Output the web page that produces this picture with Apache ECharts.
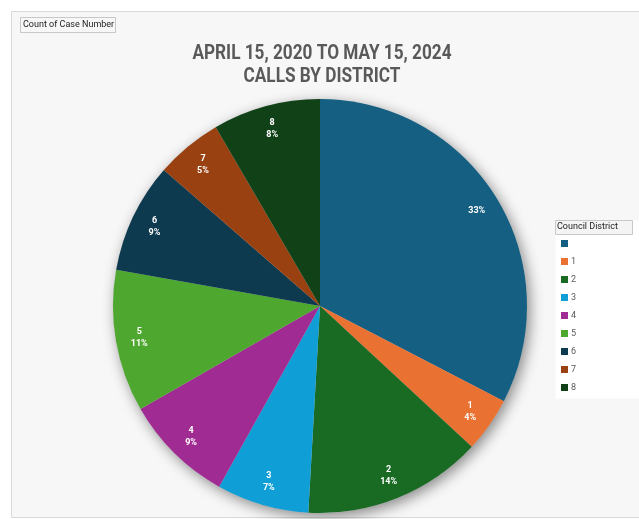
<!DOCTYPE html>
<html>
<head>
<meta charset="utf-8">
<script src="https://cdn.jsdelivr.net/npm/echarts@6/dist/echarts.min.js"></script>
<style>
html,body{margin:0;padding:0;background:#fff;}
#c{width:639px;height:519px;}
</style>
</head>
<body>
<div id="c"></div>
<script>
const categories = ['\u00a0', '1', '2', '3', '4', '5', '6', '7', '8'];
const values = [326, 43, 140, 72, 86, 111, 86, 52, 84];
const colors = ['#156082', '#E97132', '#196B24', '#0F9ED5', '#A02B93', '#4EA72E', '#0E3A50', '#9A4111', '#104117'];
const titleLines = ['APRIL 15, 2020 TO MAY 15, 2024', 'CALLS BY DISTRICT'];
const legendTitle = 'Council District';
const fieldButton = 'Count of Case Number';

const chart = echarts.init(document.getElementById('c'), null, {renderer: 'canvas'});
const data = categories.map((n, i) => ({name: n, value: values[i], itemStyle: {color: colors[i]}}));
const center = [320, 306];
const R = 207;
const font = '"Roboto", "Liberation Sans", sans-serif';

chart.setOption({
  animation: false,
  backgroundColor: '#ffffff',
  graphic: [
    {type: 'rect', z: -10, shape: {x: 11.5, y: 11.5, width: 640, height: 506}, style: {fill: '#f7f7f7', stroke: '#d9d9d9', lineWidth: 1}},
    {type: 'rect', z: -5, shape: {x: 555.5, y: 220.5, width: 90, height: 178}, style: {fill: '#ffffff', stroke: null}},
    {type: 'rect', z: 1, shape: {x: 555.5, y: 220.5, width: 77, height: 14}, style: {fill: '#f4f4f4', stroke: '#c8c8c8', lineWidth: 1}},
    {type: 'text', z: 2, left: 557, top: 222, style: {text: legendTitle, fill: '#222', font: '9px ' + font}},
    {type: 'rect', z: 1, shape: {x: 20.5, y: 17.5, width: 95, height: 15}, style: {fill: '#f7f7f7', stroke: '#c8c8c8', lineWidth: 1}},
    {type: 'text', z: 2, left: 23, top: 20, style: {text: fieldButton, fill: '#222', font: '9px ' + font}},
    {type: 'text', z: 5, x: 322, y: 42, scaleX: 0.86, originX: 0, style: {text: titleLines.join('\n'), fill: '#595959', font: 'bold 20px ' + font, align: 'center', verticalAlign: 'top', lineHeight: 23}}
  ],
  legend: {
    orient: 'vertical',
    left: 561,
    top: 238,
    padding: 0,
    icon: 'rect',
    itemWidth: 7,
    itemHeight: 7,
    itemGap: 7,
    data: categories,
    textStyle: {fontFamily: font, fontSize: 9, color: '#595959', lineHeight: 11, padding: [0, 0, 0, -2]},
    selectedMode: false
  },
  series: [
    {
      type: 'pie',
      silent: true,
      center: center,
      radius: [0, R],
      startAngle: 90,
      z: 1,
      label: {show: false},
      labelLine: {show: false},
      data: [{name: '__shadow', value: 1, itemStyle: {color: '#cccccc', shadowBlur: 14, shadowColor: 'rgba(0,0,0,0.45)', shadowOffsetX: 3, shadowOffsetY: 4}}]
    },
    {
      type: 'pie',
      center: center,
      radius: [0, R],
      startAngle: 90,
      clockwise: true,
      z: 2,
      label: {show: false},
      labelLine: {show: false},
      itemStyle: {borderWidth: 0},
      emphasis: {disabled: true},
      data: data
    },
    {
      type: 'pie',
      silent: true,
      center: center,
      radius: [154, R],
      startAngle: 90,
      clockwise: true,
      z: 3,
      percentPrecision: 0,
      itemStyle: {color: 'rgba(0,0,0,0)', borderWidth: 0},
      emphasis: {disabled: true},
      labelLine: {show: false},
      label: {
        show: true,
        position: 'inside',
        formatter: p => (p.name.trim() ? p.name + '\n' : '') + p.percent + '%',
        color: '#ffffff',
        fontFamily: font,
        fontSize: 9,
        fontWeight: 'bold',
        lineHeight: 12
      },
      data: categories.map((n, i) => ({name: n, value: values[i]}))
    }
  ]
});
</script>
</body>
</html>
